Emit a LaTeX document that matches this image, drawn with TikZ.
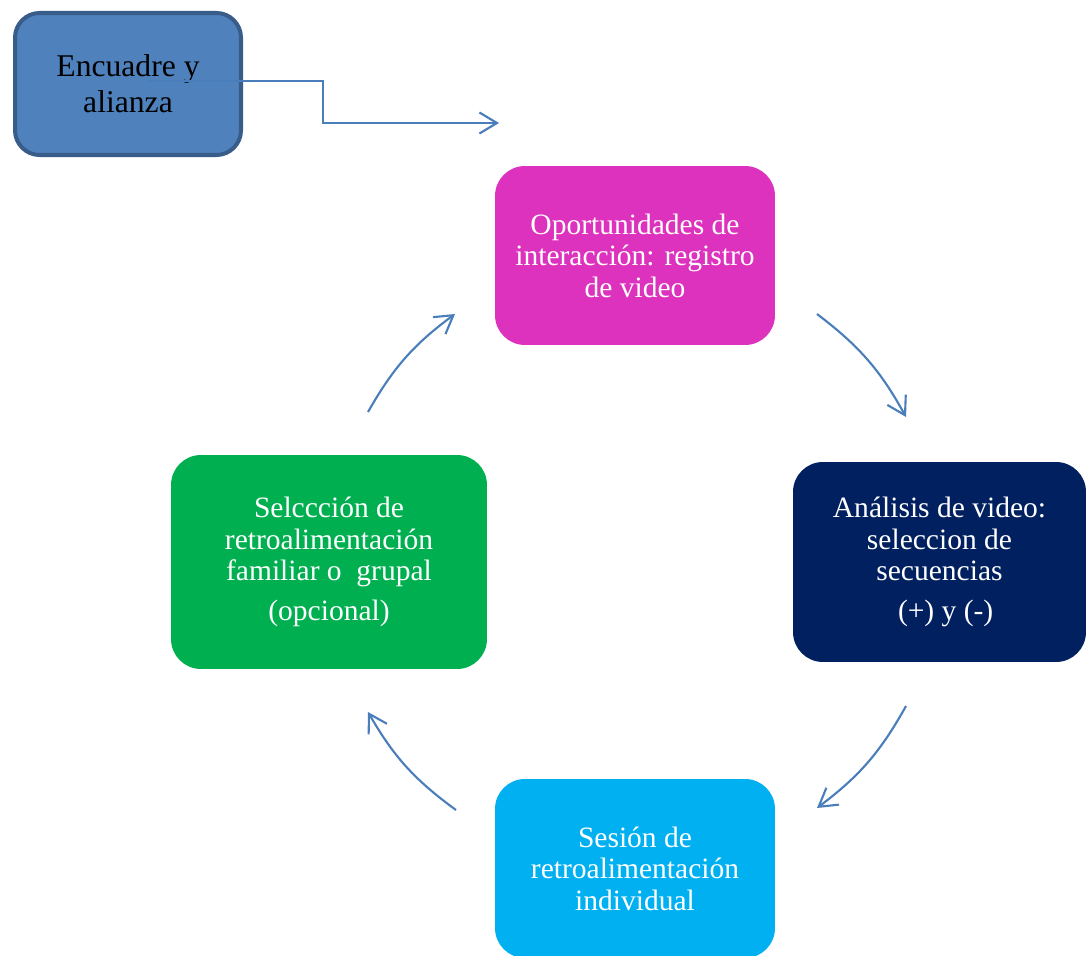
\documentclass[tikz,border=0pt]{standalone}
\usepackage{fontspec}
\setmainfont{Liberation Serif}
\usetikzlibrary{arrows.meta}

\definecolor{encfill}{HTML}{4F81BD}
\definecolor{encdraw}{HTML}{385D8A}
\definecolor{vidmag}{HTML}{DC32BE}
\definecolor{anavy}{HTML}{002060}
\definecolor{sescyan}{HTML}{00B0F0}
\definecolor{selgreen}{HTML}{00B050}
\definecolor{linkblue}{HTML}{4A7EBB}

\begin{document}
\begin{tikzpicture}[
        x=0.02cm, y=-0.02cm,
        font=\fontsize{16.8}{17.9}\selectfont,
        blk/.style={rounded corners=17pt, align=center, inner sep=0pt, text=white},
        enc/.style={blk, draw=encdraw, fill=encfill, line width=2.3pt, rounded corners=14pt, text=black,
            font=\fontsize{18}{20.5}\selectfont},
        vid/.style={blk, fill=vidmag},
        ana/.style={blk, fill=anavy},
        ses/.style={blk, fill=sescyan},
        sel/.style={blk, fill=selgreen},
        cyc/.style={draw=linkblue, line width=1.2pt, -{Straight Barb[length=10pt, width=12pt]}}]

    \useasboundingbox (0,0) rectangle (1086,956);

    % ---------- start box ----------
    \node[enc, minimum width=4.52cm, minimum height=2.84cm] (encuadre) at (128,84) {Encuadre y\\alianza};

    % ---------- cycle boxes ----------
    \node[vid, minimum width=5.6cm, minimum height=3.58cm] (registro) at (635,255.5) {Oportunidades de\\interacción: registro\\de video};
    \node[ana, minimum width=5.86cm, minimum height=4.0cm] (analisis) at (939.5,562) {Análisis de video:\\seleccion de\\secuencias\\[4.8pt]\hspace*{7pt}(+) y (-)};
    \node[ses, minimum width=5.6cm, minimum height=3.58cm] (sesion) at (635,868.5) {Sesión de\\retroalimentación\\individual};
    \node[sel, minimum width=6.32cm, minimum height=4.28cm] (seleccion) at (329,562) {Selccción de\\retroalimentación\\familiar o~ grupal\\[4.8pt](opcional)};

    % ---------- arrow ends ----------
    \coordinate (elbowstart) at (147,81);
    \coordinate (elbowend) at (499,123);
    \coordinate (a1s) at (368,412);
    \coordinate (a1e) at (455,314);
    \coordinate (a2s) at (817,314);
    \coordinate (a2e) at (906,417);
    \coordinate (a3s) at (906,706);
    \coordinate (a3e) at (817,808);
    \coordinate (a4s) at (456,810);
    \coordinate (a4e) at (368,712);

    \draw[cyc] (elbowstart) -- ++(176,0) |- (elbowend);
    \draw[cyc] (a1s) to[bend left=12] (a1e);
    \draw[cyc] (a2s) to[bend left=12] (a2e);
    \draw[cyc] (a3s) to[bend left=12] (a3e);
    \draw[cyc] (a4s) to[bend left=12] (a4e);
    \end{tikzpicture}
\end{document}
